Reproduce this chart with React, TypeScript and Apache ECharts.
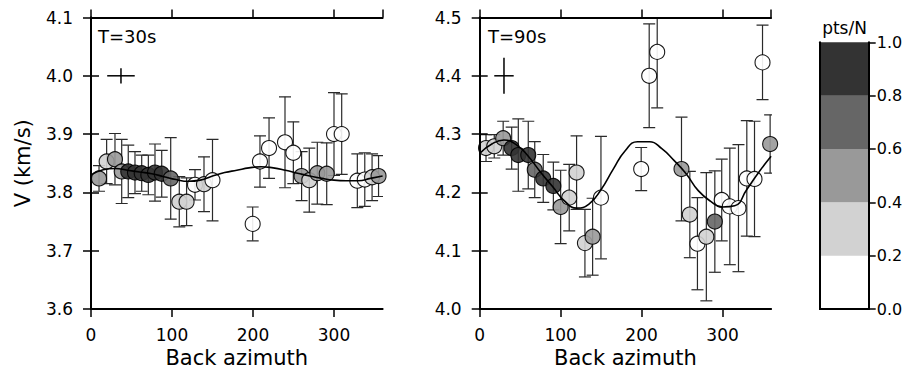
import React, { useEffect, useRef } from "react";
import * as echarts from "echarts";

// ---------- T = 30 s panel ----------
const az30 = [9.9, 19.3, 29.6, 37.9, 46, 54.3, 62.6, 70.8, 79, 87.3, 98.4, 109, 118, 128.4, 139.5, 150, 199.6, 208.6, 219.8, 239.5, 249.8, 260, 269.5, 279.4, 291, 300, 309.5, 328.8, 338, 347, 355];
const v30 = [3.824, 3.853, 3.857, 3.836, 3.836, 3.834, 3.833, 3.83, 3.834, 3.832, 3.824, 3.784, 3.784, 3.813, 3.814, 3.821, 3.746, 3.853, 3.876, 3.886, 3.868, 3.828, 3.821, 3.833, 3.832, 3.9, 3.9, 3.82, 3.822, 3.826, 3.828];
const err30 = [0.022, 0.038, 0.044, 0.055, 0.045, 0.036, 0.031, 0.034, 0.049, 0.04, 0.07, 0.043, 0.041, 0.026, 0.047, 0.07, 0.029, 0.044, 0.052, 0.078, 0.053, 0.042, 0.055, 0.053, 0.053, 0.071, 0.069, 0.046, 0.046, 0.04, 0.035];
const pts30 = [0.5, 0.3, 0.5, 0.5, 0.9, 0.9, 0.9, 0.9, 0.9, 0.9, 0.7, 0.3, 0.3, 0.1, 0.3, 0.1, 0.1, 0.1, 0.1, 0.1, 0.1, 0.5, 0.3, 0.5, 0.5, 0.1, 0.1, 0.1, 0.1, 0.3, 0.5];
const fitAz30 = [0, 15, 30, 45, 60, 75, 90, 105, 120, 135, 150, 165, 180, 195, 210, 225, 240, 255, 270, 285, 300, 315, 330, 345, 360];
const fitV30 = [3.83, 3.839, 3.841, 3.838, 3.835, 3.832, 3.827, 3.822, 3.819, 3.821, 3.828, 3.834, 3.838, 3.842, 3.844, 3.842, 3.838, 3.833, 3.828, 3.824, 3.821, 3.82, 3.82, 3.824, 3.828];
const cross30 = [37, 4.0, 17, 0.013];

// ---------- T = 90 s panel ----------
const az90 = [7.8, 18, 29, 39.5, 47.7, 60, 68, 78.5, 91, 100, 110.6, 119.7, 130, 139.5, 149.8, 199.5, 209.4, 219.3, 249.3, 259.6, 269, 280, 290.5, 299, 309, 319.7, 330, 339.5, 349.4, 358.8];
const v90 = [4.276, 4.279, 4.293, 4.276, 4.264, 4.264, 4.239, 4.224, 4.211, 4.175, 4.191, 4.234, 4.113, 4.124, 4.191, 4.24, 4.4, 4.441, 4.24, 4.162, 4.112, 4.124, 4.15, 4.187, 4.176, 4.173, 4.224, 4.223, 4.423, 4.283];
const err90 = [0.023, 0.02, 0.029, 0.036, 0.062, 0.058, 0.048, 0.041, 0.041, 0.063, 0.057, 0.063, 0.058, 0.066, 0.105, 0.037, 0.089, 0.096, 0.089, 0.074, 0.079, 0.11, 0.087, 0.07, 0.1, 0.109, 0.099, 0.099, 0.064, 0.05];
const pts90 = [0.3, 0.3, 0.5, 0.9, 0.9, 0.9, 0.7, 0.9, 0.9, 0.5, 0.3, 0.3, 0.3, 0.5, 0.1, 0.1, 0.1, 0.1, 0.5, 0.3, 0.1, 0.3, 0.7, 0.1, 0.1, 0.1, 0.1, 0.1, 0.1, 0.5];
const fitAz90 = [0, 15, 30, 45, 60, 75, 90, 105, 120, 135, 150, 165, 180, 195, 210, 225, 240, 255, 270, 285, 300, 315, 330, 345, 360];
const fitV90 = [4.267, 4.283, 4.29, 4.282, 4.262, 4.235, 4.21, 4.185, 4.173, 4.18, 4.205, 4.24, 4.272, 4.287, 4.287, 4.275, 4.255, 4.232, 4.203, 4.185, 4.175, 4.177, 4.205, 4.235, 4.262];
const cross90 = [30, 4.4, 12, 0.031];

// ---------- colour scale ----------
const cbEdges = [0, 0.2, 0.4, 0.6, 0.8, 1.0];
const cbColors = ["#ffffff", "#d2d2d2", "#999999", "#666666", "#333333"];

const FONT = "DejaVu Sans";
const colorOf = (p: number) => cbColors[Math.min(cbColors.length - 1, Math.floor(p / 0.2))];

function errorBarItem(params: any, api: any) {
  const x = api.value(0);
  const p1 = api.coord([x, api.value(1)]);
  const p2 = api.coord([x, api.value(2)]);
  const w = 6;
  const style = { stroke: "#2a2a2a", lineWidth: 1.2, fill: null };
  return {
    type: "group",
    children: [
      { type: "line", shape: { x1: p1[0], y1: p1[1], x2: p2[0], y2: p2[1] }, style },
      { type: "line", shape: { x1: p1[0] - w, y1: p1[1], x2: p1[0] + w, y2: p1[1] }, style },
      { type: "line", shape: { x1: p2[0] - w, y1: p2[1], x2: p2[0] + w, y2: p2[1] }, style },
    ],
  };
}

function crossItem(params: any, api: any) {
  const x = api.value(0), y = api.value(1), dx = api.value(2), dy = api.value(3);
  const a = api.coord([x - dx, y]);
  const b = api.coord([x + dx, y]);
  const c = api.coord([x, y - dy]);
  const d = api.coord([x, y + dy]);
  const style = { stroke: "#000", lineWidth: 1.5, fill: null };
  return {
    type: "group",
    children: [
      { type: "line", shape: { x1: a[0], y1: a[1], x2: b[0], y2: b[1] }, style },
      { type: "line", shape: { x1: c[0], y1: c[1], x2: d[0], y2: d[1] }, style },
    ],
  };
}

const axisLine = { show: true, lineStyle: { color: "#000", width: 2 } };
const axisTick = { show: true, inside: false, length: 8, lineStyle: { color: "#000", width: 1.5 } };
const labelStyle = { color: "#000", fontSize: 17, fontFamily: FONT };

function panelAxes(gi: number, ymin: number, ymax: number, withName: boolean) {
  const xs = [
    {
      type: "value", gridIndex: gi, position: "bottom", min: 0, max: 360, interval: 100,
      axisLine, axisTick, splitLine: { show: false },
      axisLabel: { ...labelStyle, margin: 17, showMaxLabel: false },
      name: "Back azimuth", nameLocation: "middle", nameGap: 38,
      nameTextStyle: { color: "#000", fontSize: 21, fontFamily: FONT },
      z: 10,
    },
    {
      type: "value", gridIndex: gi, position: "top", min: 0, max: 360, interval: 100,
      axisLine, axisTick, splitLine: { show: false }, axisLabel: { show: false }, z: 10,
    },
  ];
  const ys = [
    {
      type: "value", gridIndex: gi, position: "left", min: ymin, max: ymax, interval: 0.1,
      axisLine, axisTick, splitLine: { show: false },
      axisLabel: { ...labelStyle, margin: 18, formatter: (v: number) => v.toFixed(1) },
      ...(withName
        ? {
            name: "V (km/s)", nameLocation: "middle", nameGap: 58,
            nameTextStyle: { color: "#000", fontSize: 21, fontFamily: FONT },
          }
        : {}),
      z: 10,
    },
    {
      type: "value", gridIndex: gi, position: "right", min: ymin, max: ymax, interval: 0.1,
      axisLine, axisTick, splitLine: { show: false }, axisLabel: { show: false }, z: 10,
    },
  ];
  return { xs, ys };
}

function panelSeries(xi: number, yi: number, az: number[], v: number[], err: number[], pts: number[], fitAz: number[], fitV: number[], cross: number[]) {
  return [
    {
      type: "custom", xAxisIndex: xi, yAxisIndex: yi, clip: true, z: 3,
      renderItem: errorBarItem,
      encode: { x: 0, y: [1, 2] },
      data: az.map((a, i) => [a, v[i] - err[i], v[i] + err[i]]),
    },
    {
      type: "scatter", xAxisIndex: xi, yAxisIndex: yi, z: 4, symbol: "circle", symbolSize: 15,
      data: az.map((a, i) => ({
        value: [a, v[i], pts[i]],
        itemStyle: { color: colorOf(pts[i]), borderColor: "#000", borderWidth: 1.1, opacity: 0.9 },
      })),
    },
    {
      type: "line", xAxisIndex: xi, yAxisIndex: yi, z: 5, smooth: 0.5, showSymbol: false,
      lineStyle: { color: "#000", width: 1.6 },
      data: fitAz.map((a, i) => [a, fitV[i]]),
    },
    {
      type: "custom", xAxisIndex: xi, yAxisIndex: yi, z: 6,
      renderItem: crossItem,
      encode: { x: 0, y: 1 },
      data: [cross],
    },
  ];
}

export default function App() {
  const ref = useRef<HTMLDivElement>(null);
  useEffect(() => {
    if (!ref.current) return;
    const chart = echarts.init(ref.current, undefined, { renderer: "svg" });
    const p0 = panelAxes(0, 3.6, 4.1, true);
    const p1 = panelAxes(1, 4.0, 4.5, false);
    const option: any = {
      animation: false,
      backgroundColor: "#fff",
      grid: [
        { left: 91, top: 17.5, width: 291.6, height: 291.5 },
        { left: 479.7, top: 17.5, width: 291.4, height: 291.5 },
        { left: 820, top: 42.3, width: 48.7, height: 266.7 },
      ],
      xAxis: [
        ...p0.xs,
        ...p1.xs,
        { type: "category", gridIndex: 2, position: "bottom", data: ["c"], axisLine, axisTick: { show: false }, axisLabel: { show: false }, z: 10 },
        { type: "category", gridIndex: 2, position: "top", data: ["c"], axisLine, axisTick: { show: false }, axisLabel: { show: false }, z: 10 },
      ],
      yAxis: [
        ...p0.ys,
        ...p1.ys,
        { type: "value", gridIndex: 2, position: "left", min: 0, max: 1, interval: 0.2, axisLine, axisTick: { show: false }, axisLabel: { show: false }, splitLine: { show: false }, z: 10 },
        {
          type: "value", gridIndex: 2, position: "right", min: 0, max: 1, interval: 0.2,
          axisLine, axisTick: { show: true, length: 7, lineStyle: { color: "#000", width: 1.5 } },
          axisLabel: { color: "#000", fontSize: 16, fontFamily: FONT, margin: 8, formatter: (v: number) => v.toFixed(1) },
          splitLine: { show: false }, z: 10,
        },
      ],
      graphic: [
        { type: "text", x: 98, y: 36, style: { text: "T=30s", fill: "#000", fontSize: 18, fontFamily: FONT, verticalAlign: "middle" } },
        { type: "text", x: 488, y: 36, style: { text: "T=90s", fill: "#000", fontSize: 18, fontFamily: FONT, verticalAlign: "middle" } },
        { type: "text", x: 844.5, y: 28, style: { text: "pts/N", fill: "#000", fontSize: 17, fontFamily: FONT, align: "center", verticalAlign: "middle" } },
      ],
      series: [
        ...panelSeries(0, 0, az30, v30, err30, pts30, fitAz30, fitV30, cross30),
        ...panelSeries(2, 2, az90, v90, err90, pts90, fitAz90, fitV90, cross90),
        ...cbColors.map((c, i) => ({
          type: "bar", xAxisIndex: 4, yAxisIndex: 5, stack: "cb", barWidth: "100%", z: 2,
          itemStyle: { color: c },
          data: [cbEdges[i + 1] - cbEdges[i]],
        })),
      ],
    };
    chart.setOption(option);
    return () => chart.dispose();
  }, []);
  return <div ref={ref} style={{ position: "absolute", left: 0, top: 0, width: 916, height: 379 }} />;
}
